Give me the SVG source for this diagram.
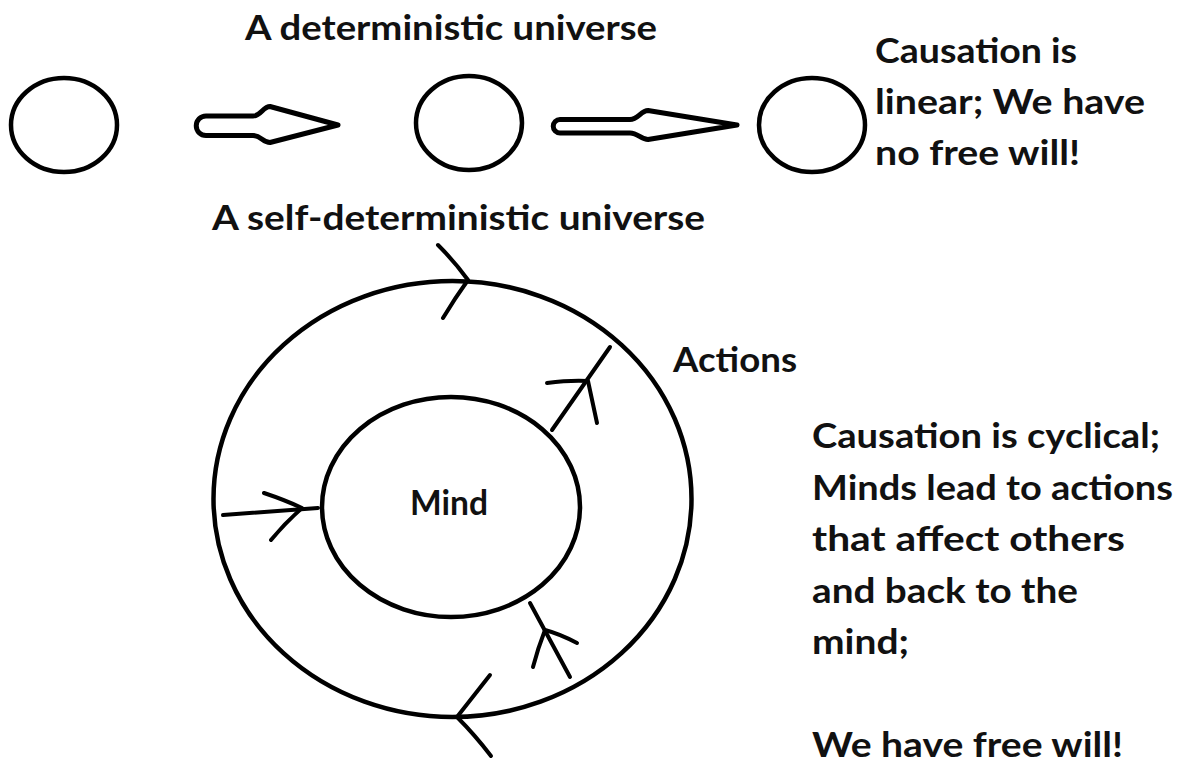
<svg xmlns="http://www.w3.org/2000/svg" width="1187" height="762" viewBox="0 0 1187 762">
<style>
.c{fill:none;stroke:#000;stroke-width:4.5}
.h{fill:#fff;stroke:#000;stroke-width:5;stroke-linejoin:round}
.l{fill:none;stroke:#000;stroke-width:4;stroke-linecap:round;stroke-linejoin:round}
text{font-family:Lato,"DejaVu Sans",sans-serif;font-weight:bold;font-size:35px;fill:#111}
</style>
<rect width="1187" height="762" fill="#fff"/>
<text x="245" y="40" textLength="412" lengthAdjust="spacingAndGlyphs">A deterministic universe</text>
<g id="node-c1"><ellipse class="c" cx="64" cy="125" rx="53" ry="47"/></g>
<g id="node-c2"><ellipse class="c" cx="469" cy="123" rx="53" ry="47"/></g>
<g id="node-c3"><ellipse class="c" cx="812" cy="125" rx="53" ry="47"/></g>
<g id="note-linear">
<text x="875" y="63" textLength="202" lengthAdjust="spacingAndGlyphs">Causation is</text>
<text x="875" y="114" textLength="270" lengthAdjust="spacingAndGlyphs">linear; We have</text>
<text x="875" y="165" textLength="205" lengthAdjust="spacingAndGlyphs">no free will!</text>
</g>
<text x="212" y="230" textLength="493" lengthAdjust="spacingAndGlyphs">A self-deterministic universe</text>
<g id="node-outer"><ellipse class="c" cx="452.5" cy="499" rx="239" ry="218"/></g>
<g id="node-mind"><ellipse class="c" cx="451" cy="507" rx="129" ry="110"/>
<text x="410" y="515" textLength="78" lengthAdjust="spacingAndGlyphs">Mind</text></g>
<g id="label-actions"><text x="673" y="372" textLength="124" lengthAdjust="spacingAndGlyphs">Actions</text></g>
<g id="note-cyclical">
<text x="812" y="448" textLength="348" lengthAdjust="spacingAndGlyphs">Causation is cyclical;</text>
<text x="812" y="500" textLength="361" lengthAdjust="spacingAndGlyphs">Minds lead to actions</text>
<text x="812" y="551" textLength="313" lengthAdjust="spacingAndGlyphs">that affect others</text>
<text x="812" y="603" textLength="266" lengthAdjust="spacingAndGlyphs">and back to the</text>
<text x="812" y="654" textLength="97" lengthAdjust="spacingAndGlyphs">mind;</text>
<text x="812" y="757" textLength="311" lengthAdjust="spacingAndGlyphs">We have free will!</text>
</g>
<g id="connectors">
<path class="h" d="M206,116 L253,116 C261,116 263,106.5 270,106.5 L338,125 L270,142.5 C263,142.5 261,135.5 253,135.5 L206,135.5 A9.75,9.75 0 0 1 206,116 Z"/>
<path class="h" d="M560,119.5 L630,119.5 C638,119.5 641,110.5 648,110.5 L737,125 L648,139.5 C641,139.5 638,133 630,133 L560,133 A6.75,6.75 0 0 1 560,119.5 Z"/>
<path class="l" d="M438,245 Q455,262 468,280 Q455,298 443,318"/>
<line class="l" x1="552" y1="430" x2="610" y2="347"/>
<path class="l" d="M547,383 Q570,380 588,381 Q592,400 597,423"/>
<line class="l" x1="223" y1="515" x2="318" y2="508"/>
<path class="l" d="M264,493 Q285,500 302,508 Q285,523 271,540"/>
<line class="l" x1="570" y1="677" x2="530" y2="603"/>
<path class="l" d="M577,643 Q560,634 545,630 Q538,648 533,667"/>
<path class="l" d="M490,675 Q472,698 457,717 Q475,735 491,756"/>
</g>
</svg>
